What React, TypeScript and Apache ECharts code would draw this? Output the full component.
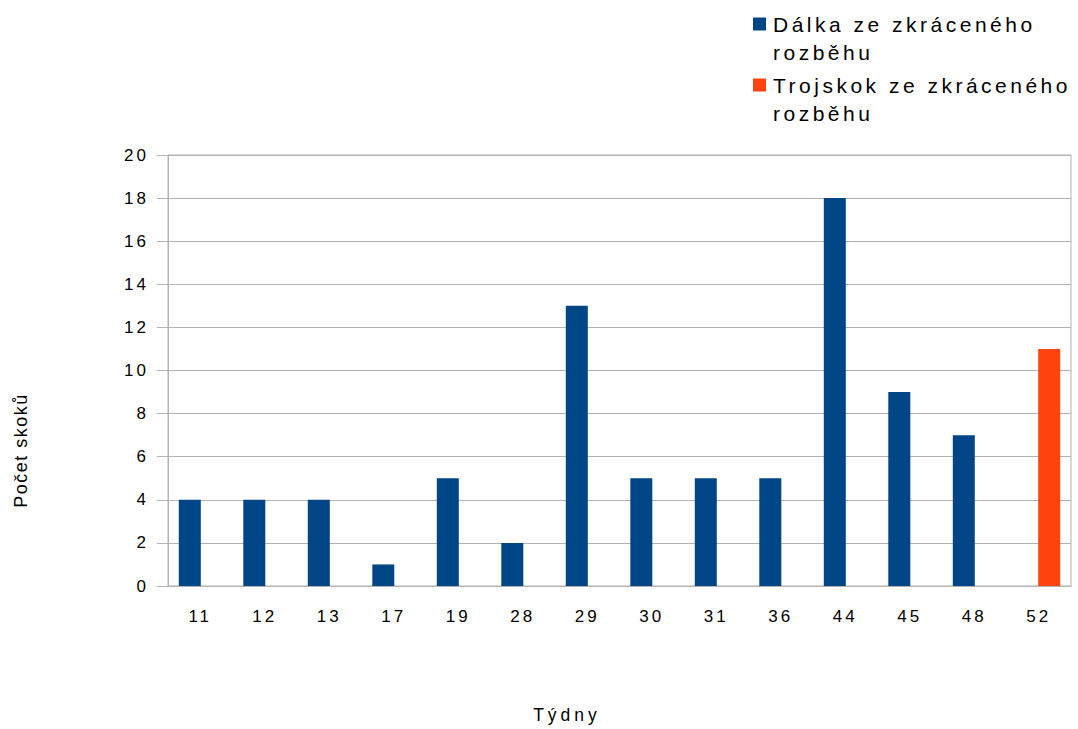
import React, { useEffect, useRef } from "react";
import * as echarts from "echarts";

const weeks = ["11", "12", "13", "17", "19", "28", "29", "30", "31", "36", "44", "45", "48", "52"];
const longJump = [4, 4, 4, 1, 5, 2, 13, 5, 5, 5, 18, 9, 7, null];
const tripleJump = [null, null, null, null, null, null, null, null, null, null, null, null, null, 11];
const seriesNames = ["Dálka ze zkráceného\nrozběhu", "Trojskok ze zkráceného\nrozběhu"];
const seriesColors = ["#004586", "#ff420e"];
const yTicks = { min: 0, max: 20, interval: 2 };
const xName = "Týdny";
const yName = "Počet skoků";

const FONT = "'Liberation Sans', Arial, sans-serif";
const GRAY = "#b3b3b3";
// square drawn at the top of a taller, invisible box so it lines up with the first text line
const LEGEND_ICON = "path://M0,0L13,0L13,13L0,13Z M0,41L0.001,41L0,41Z";

const css =
  "#root svg text { letter-spacing: 3px; }" +
  "#root svg text[style*='21px'] { letter-spacing: 3.5px; }" +
  "#root svg text[style*='18px'] { letter-spacing: 1.5px; }" +
  "#root svg text[style*='17.5px'] { letter-spacing: 4px; }";

export default function App() {
  const ref = useRef<HTMLDivElement>(null);
  useEffect(() => {
    document.body.style.margin = "0";
    const chart = echarts.init(ref.current!, null, { renderer: "svg" });
    chart.setOption({
      animation: false,
      textStyle: { fontFamily: FONT, color: "#000" },
      legend: {
        orient: "vertical",
        left: 748,
        top: 5,
        itemWidth: 13,
        itemHeight: 41,
        itemGap: 5,
        icon: LEGEND_ICON,
        data: seriesNames,
        textStyle: {
          fontFamily: FONT,
          fontSize: 21,
          lineHeight: 28,
          color: "#000",
          padding: [0, 0, 0, 2],
        },
      },
      grid: {
        left: 168,
        right: 7,
        top: 155,
        bottom: 142,
        show: true,
        borderColor: GRAY,
        borderWidth: 1,
      },
      xAxis: {
        type: "category",
        data: weeks,
        name: xName,
        nameLocation: "middle",
        nameGap: 120,
        nameTextStyle: { fontFamily: FONT, fontSize: 17.5, color: "#000", padding: [0, 105, 0, 0] },
        axisLine: { lineStyle: { color: GRAY } },
        axisTick: { length: 10, lineStyle: { color: GRAY } },
        axisLabel: { margin: 22, fontSize: 17, color: "#000", fontFamily: FONT },
      },
      yAxis: {
        type: "value",
        min: yTicks.min,
        max: yTicks.max,
        interval: yTicks.interval,
        name: yName,
        nameLocation: "middle",
        nameGap: 138,
        nameTextStyle: { fontFamily: FONT, fontSize: 18, color: "#000", padding: [0, 160, 0, 0] },
        axisLine: { show: true, lineStyle: { color: GRAY } },
        axisTick: { show: true, length: 11, lineStyle: { color: GRAY } },
        axisLabel: { margin: 19, fontSize: 17, color: "#000", fontFamily: FONT },
        splitLine: { lineStyle: { color: GRAY } },
      },
      series: [
        {
          name: seriesNames[0],
          type: "bar",
          data: longJump,
          barWidth: 22,
          barGap: "-5%",
          itemStyle: { color: seriesColors[0] },
        },
        {
          name: seriesNames[1],
          type: "bar",
          data: tripleJump,
          barWidth: 22,
          barGap: "-5%",
          itemStyle: { color: seriesColors[1] },
        },
      ],
    });
    return () => chart.dispose();
  }, []);
  return (
    <>
      <style>{css}</style>
      <div ref={ref} style={{ width: 1078, height: 729 }} />
    </>
  );
}
